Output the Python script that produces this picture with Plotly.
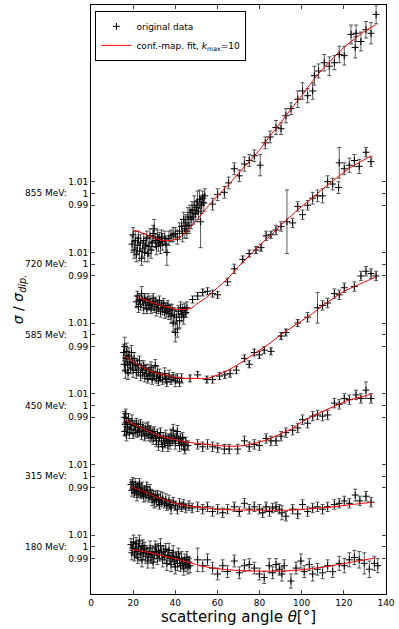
import plotly.graph_objects as go

# beam energies (MeV) and the vertical offset used to stack them
energies = [180, 315, 450, 585, 720, 855]
offsets = [0.0, 0.06, 0.12, 0.18, 0.24, 0.30]

# ---- 855 MeV ----
theta_855 = [19.5, 20.0, 20.5, 21.0, 21.5, 22.0, 22.5, 23.0, 23.5, 24.0,
             24.5, 25.0, 25.5, 26.0, 26.5, 27.0, 27.5, 28.0, 28.5, 29.0,
             29.5, 30.0, 30.5, 31.0, 31.5, 32.0, 32.5, 33.0, 33.5, 34.0,
             35.0, 35.5, 36.0, 37.0, 38.0, 39.0, 40.0, 41.0, 42.0, 43.0,
             43.5, 44.0, 44.5, 45.0, 45.5, 46.0, 46.5, 47.0, 47.5, 48.0,
             48.5, 49.0, 49.5, 50.0, 50.5, 51.0, 51.5, 52.0, 52.5, 53.0,
             53.5, 54.0, 57.7, 60.1, 63.3, 65.3, 68.0, 70.4, 72.8, 75.1,
             77.5, 80.3, 82.7, 85.0, 87.8, 90.2, 92.5, 94.9, 98.1, 100.4,
             102.8, 105.2, 106.0, 108.0, 110.7, 113.1, 115.5, 117.8, 120.2, 123.4,
             125.4, 125.8, 128.1, 130.5, 132.9, 135.3]
ratio_855 = [0.957, 0.965, 0.952, 0.960, 0.948, 0.956, 0.962, 0.951, 0.958, 0.945,
             0.953, 0.960, 0.950, 0.956, 0.962, 0.949, 0.955, 0.964, 0.952, 0.958,
             0.966, 0.970, 0.960, 0.955, 0.963, 0.958, 0.961, 0.956, 0.963, 0.959,
             0.962, 0.957, 0.950, 0.962, 0.964, 0.965, 0.966, 0.963, 0.968, 0.972,
             0.966, 0.978, 0.970, 0.975, 0.968, 0.980, 0.973, 0.984, 0.978, 0.986,
             0.980, 0.990, 0.983, 0.988, 0.993, 0.985, 0.995, 0.976, 0.990, 0.996,
             0.992, 0.998, 0.991, 0.999, 1.001, 1.009, 1.021, 1.015, 1.025, 1.028,
             1.032, 1.024, 1.043, 1.048, 1.056, 1.055, 1.066, 1.072, 1.080, 1.087,
             1.083, 1.087, 1.100, 1.104, 1.111, 1.108, 1.111, 1.118, 1.117, 1.135,
             1.124, 1.136, 1.129, 1.139, 1.136, 1.152]
err_855 = [0.007, 0.006, 0.007, 0.008, 0.006, 0.007, 0.006, 0.008, 0.007, 0.006,
           0.007, 0.006, 0.008, 0.007, 0.006, 0.007, 0.008, 0.006, 0.007, 0.006,
           0.007, 0.008, 0.006, 0.007, 0.006, 0.007, 0.006, 0.007, 0.006, 0.007,
           0.006, 0.007, 0.011, 0.006, 0.005, 0.006, 0.005, 0.006, 0.007, 0.006,
           0.007, 0.006, 0.008, 0.007, 0.006, 0.008, 0.007, 0.006, 0.008, 0.007,
           0.006, 0.008, 0.007, 0.006, 0.009, 0.007, 0.008, 0.022, 0.007, 0.006,
           0.007, 0.006, 0.005, 0.005, 0.005, 0.005, 0.005, 0.005, 0.006, 0.005,
           0.005, 0.009, 0.005, 0.005, 0.006, 0.005, 0.006, 0.005, 0.007, 0.007,
           0.006, 0.007, 0.008, 0.006, 0.007, 0.008, 0.006, 0.007, 0.008, 0.008,
           0.009, 0.007, 0.008, 0.007, 0.009, 0.008]
fit_theta_855 = [20, 25, 30, 35, 40, 45, 50, 55, 60, 65, 70, 75, 80, 85, 90, 95,
                 100, 105, 110, 115, 120, 125, 130, 135]
fit_855 = [0.969, 0.966, 0.962, 0.960, 0.961, 0.967, 0.977, 0.988, 0.998, 1.007,
           1.017, 1.027, 1.037, 1.049, 1.060, 1.072, 1.083, 1.095, 1.106, 1.115,
           1.124, 1.131, 1.138, 1.143]

# ---- 720 MeV ----
theta_720 = [21.5, 22.0, 22.5, 23.0, 23.5, 24.0, 24.5, 25.0, 25.5, 26.0,
             26.5, 27.0, 27.5, 28.0, 28.5, 29.0, 29.5, 30.0, 30.5, 31.0,
             31.5, 32.0, 32.5, 33.0, 33.5, 34.0, 34.5, 35.0, 35.5, 36.0,
             36.5, 37.0, 37.5, 38.0, 38.5, 39.0, 39.5, 40.0, 40.5, 41.0,
             41.5, 42.0, 42.5, 43.0, 43.5, 44.0, 44.5, 45.0, 45.5, 48.2,
             50.6, 53.0, 55.3, 57.7, 60.1, 64.8, 68.0, 72.0, 75.1, 78.3,
             80.7, 83.1, 85.4, 87.8, 90.2, 93.0, 95.7, 98.1, 100.4, 102.8,
             105.2, 107.5, 109.9, 112.3, 114.7, 117.5, 117.8, 120.2, 122.6, 125.0,
             127.3, 130.5, 132.9]
ratio_720 = [0.968, 0.973, 0.964, 0.970, 0.966, 0.975, 0.969, 0.963, 0.971, 0.967,
             0.962, 0.970, 0.965, 0.968, 0.962, 0.966, 0.971, 0.964, 0.968, 0.961,
             0.966, 0.963, 0.969, 0.960, 0.965, 0.962, 0.967, 0.959, 0.963, 0.960,
             0.965, 0.958, 0.962, 0.956, 0.961, 0.950, 0.957, 0.942, 0.955, 0.945,
             0.960, 0.952, 0.963, 0.957, 0.961, 0.955, 0.962, 0.959, 0.963, 0.970,
             0.973, 0.976, 0.977, 0.975, 0.974, 0.985, 0.996, 1.004, 1.009, 1.012,
             1.014, 1.024, 1.025, 1.029, 1.032, 1.036, 1.035, 1.049, 1.042, 1.050,
             1.056, 1.058, 1.058, 1.070, 1.068, 1.065, 1.086, 1.081, 1.084, 1.088,
             1.083, 1.095, 1.087]
err_720 = [0.005, 0.004, 0.005, 0.004, 0.005, 0.006, 0.004, 0.005, 0.004, 0.005,
           0.004, 0.005, 0.004, 0.005, 0.004, 0.005, 0.004, 0.005, 0.004, 0.005,
           0.004, 0.005, 0.004, 0.005, 0.004, 0.005, 0.004, 0.005, 0.004, 0.005,
           0.004, 0.005, 0.004, 0.006, 0.005, 0.007, 0.006, 0.008, 0.006, 0.007,
           0.005, 0.006, 0.005, 0.006, 0.005, 0.006, 0.005, 0.004, 0.005, 0.003,
           0.003, 0.003, 0.003, 0.003, 0.003, 0.003, 0.004, 0.003, 0.003, 0.003,
           0.003, 0.004, 0.003, 0.004, 0.004, 0.027, 0.004, 0.004, 0.004, 0.004,
           0.005, 0.005, 0.006, 0.005, 0.005, 0.005, 0.013, 0.005, 0.006, 0.005,
           0.006, 0.004, 0.004]
fit_theta_720 = [22, 25, 30, 35, 40, 45, 48, 50, 55, 60, 65, 70, 75, 80, 85, 90,
                 95, 100, 105, 110, 115, 120, 125, 130, 133]
fit_720 = [0.972, 0.970, 0.967, 0.964, 0.962, 0.9615, 0.963, 0.966, 0.972, 0.980,
           0.988, 0.998, 1.007, 1.016, 1.024, 1.033, 1.041, 1.049, 1.056, 1.064,
           1.071, 1.078, 1.084, 1.089, 1.092]

# ---- 585 MeV ----
theta_585 = [15.5, 15.8, 16.0, 16.3, 16.6, 17.0, 17.3, 17.6, 18.0, 18.4,
             18.8, 19.2, 19.6, 20.0, 20.5, 21.0, 21.5, 22.0, 22.5, 23.0,
             23.5, 24.0, 24.5, 25.0, 25.5, 26.0, 26.5, 27.0, 27.5, 28.0,
             28.5, 29.0, 29.5, 30.0, 30.5, 31.0, 31.5, 32.0, 32.5, 33.0,
             34.0, 35.0, 35.5, 36.0, 37.0, 38.0, 39.0, 40.0, 41.0, 42.0,
             43.0, 47.0, 50.6, 55.0, 57.7, 61.0, 63.5, 66.0, 69.0, 72.8,
             75.1, 77.5, 79.9, 82.2, 85.4, 90.2, 92.5, 98.1, 102.8, 107.5,
             109.9, 112.3, 115.5, 117.8, 120.2, 125.0, 128.1, 130.5, 132.9, 135.3]
ratio_585 = [0.985, 0.975, 0.990, 0.970, 0.980, 0.986, 0.975, 0.968, 0.982, 0.977,
             0.972, 0.985, 0.976, 0.970, 0.980, 0.974, 0.968, 0.975, 0.970, 0.978,
             0.966, 0.972, 0.968, 0.974, 0.965, 0.971, 0.967, 0.963, 0.970, 0.966,
             0.972, 0.962, 0.968, 0.965, 0.974, 0.963, 0.968, 0.961, 0.966, 0.964,
             0.962, 0.967, 0.963, 0.960, 0.965, 0.962, 0.964, 0.961, 0.963, 0.960,
             0.963, 0.963, 0.966, 0.962, 0.962, 0.965, 0.966, 0.967, 0.970, 0.980,
             0.975, 0.985, 0.983, 0.987, 0.986, 0.999, 1.002, 1.010, 1.015, 1.023,
             1.025, 1.027, 1.035, 1.034, 1.040, 1.041, 1.050, 1.054, 1.052, 1.050]
err_585 = [0.007, 0.006, 0.008, 0.007, 0.006, 0.007, 0.008, 0.006, 0.007, 0.006,
           0.005, 0.006, 0.005, 0.006, 0.005, 0.004, 0.005, 0.004, 0.005, 0.004,
           0.005, 0.004, 0.005, 0.004, 0.005, 0.004, 0.005, 0.004, 0.005, 0.004,
           0.005, 0.004, 0.005, 0.004, 0.005, 0.004, 0.005, 0.004, 0.005, 0.004,
           0.004, 0.005, 0.004, 0.004, 0.005, 0.004, 0.004, 0.005, 0.004, 0.004,
           0.004, 0.003, 0.003, 0.003, 0.003, 0.003, 0.003, 0.003, 0.003, 0.003,
           0.003, 0.003, 0.003, 0.003, 0.003, 0.003, 0.003, 0.003, 0.004, 0.013,
           0.004, 0.004, 0.004, 0.004, 0.004, 0.004, 0.004, 0.004, 0.004, 0.004]
fit_theta_585 = [16, 20, 25, 30, 35, 40, 45, 50, 55, 60, 65, 70, 75, 80, 85, 90,
                 95, 100, 105, 110, 115, 120, 125, 130, 135]
fit_585 = [0.982, 0.977, 0.972, 0.968, 0.966, 0.964, 0.963, 0.963, 0.963, 0.966,
           0.970, 0.975, 0.981, 0.987, 0.993, 1.000, 1.006, 1.012, 1.018, 1.025,
           1.031, 1.037, 1.041, 1.045, 1.049]

# ---- 450 MeV ----
theta_450 = [15.8, 16.0, 16.2, 16.5, 16.8, 17.0, 17.4, 17.8, 18.2, 18.6,
             19.0, 19.5, 20.0, 20.5, 21.0, 21.5, 22.0, 22.5, 23.0, 23.5,
             24.0, 24.5, 25.0, 25.5, 26.0, 26.5, 27.0, 27.5, 28.0, 28.5,
             29.0, 29.5, 30.0, 30.5, 31.0, 31.5, 32.0, 32.5, 33.0, 33.5,
             34.0, 34.5, 35.0, 35.5, 36.0, 36.5, 37.0, 37.5, 38.0, 38.5,
             39.0, 39.5, 40.0, 40.5, 41.0, 41.5, 42.0, 42.5, 43.0, 43.5,
             44.0, 44.5, 45.0, 46.0, 50.6, 53.0, 55.3, 57.7, 60.1, 63.3,
             65.6, 69.6, 72.8, 75.1, 77.5, 79.9, 83.1, 85.4, 87.8, 90.2,
             92.5, 95.7, 98.1, 100.4, 102.8, 105.2, 107.5, 109.9, 112.3, 115.5,
             117.8, 120.2, 122.6, 125.8, 128.1, 130.5, 132.9]
ratio_450 = [0.990, 0.978, 0.984, 0.993, 0.975, 0.986, 0.981, 0.989, 0.977, 0.984,
             0.980, 0.987, 0.976, 0.983, 0.979, 0.985, 0.977, 0.982, 0.978, 0.984,
             0.975, 0.981, 0.979, 0.974, 0.980, 0.976, 0.982, 0.975, 0.979, 0.973,
             0.977, 0.972, 0.978, 0.974, 0.970, 0.976, 0.967, 0.973, 0.977, 0.970,
             0.965, 0.972, 0.968, 0.974, 0.970, 0.966, 0.972, 0.968, 0.975, 0.970,
             0.979, 0.972, 0.968, 0.974, 0.978, 0.970, 0.966, 0.972, 0.968, 0.973,
             0.967, 0.963, 0.969, 0.966, 0.967, 0.965, 0.967, 0.965, 0.964, 0.963,
             0.963, 0.963, 0.970, 0.965, 0.967, 0.966, 0.972, 0.970, 0.970, 0.974,
             0.977, 0.979, 0.981, 0.988, 0.985, 0.991, 0.992, 0.991, 0.992, 1.002,
             1.001, 1.006, 1.005, 1.009, 1.006, 1.013, 1.006]
err_450 = [0.005, 0.004, 0.005, 0.004, 0.005, 0.004, 0.005, 0.004, 0.005, 0.004,
           0.004, 0.005, 0.004, 0.004, 0.005, 0.004, 0.004, 0.005, 0.004, 0.004,
           0.004, 0.005, 0.004, 0.004, 0.005, 0.004, 0.004, 0.005, 0.004, 0.004,
           0.004, 0.005, 0.004, 0.004, 0.005, 0.004, 0.005, 0.004, 0.004, 0.005,
           0.004, 0.005, 0.004, 0.005, 0.004, 0.005, 0.004, 0.005, 0.005, 0.004,
           0.005, 0.004, 0.005, 0.004, 0.005, 0.004, 0.005, 0.004, 0.005, 0.004,
           0.005, 0.004, 0.004, 0.004, 0.004, 0.004, 0.004, 0.004, 0.004, 0.004,
           0.004, 0.004, 0.004, 0.004, 0.004, 0.004, 0.004, 0.004, 0.004, 0.004,
           0.004, 0.004, 0.004, 0.004, 0.004, 0.004, 0.004, 0.004, 0.004, 0.004,
           0.004, 0.004, 0.004, 0.004, 0.004, 0.007, 0.004]
fit_theta_450 = [16, 20, 25, 30, 35, 40, 45, 50, 55, 60, 65, 70, 75, 80, 85, 90,
                 95, 100, 105, 110, 115, 120, 125, 130, 133]
fit_450 = [0.988, 0.984, 0.980, 0.976, 0.973, 0.971, 0.969, 0.968, 0.967, 0.966,
           0.9655, 0.9655, 0.967, 0.969, 0.972, 0.976, 0.980, 0.986, 0.991, 0.995,
           0.999, 1.003, 1.006, 1.008, 1.010]

# ---- 315 MeV ----
theta_315 = [19.0, 19.4, 19.8, 20.2, 20.6, 21.0, 21.4, 21.8, 22.2, 22.6,
             23.0, 23.4, 23.8, 24.2, 24.6, 25.0, 25.5, 26.0, 26.5, 27.0,
             27.5, 28.0, 28.5, 29.0, 29.5, 30.0, 30.5, 31.0, 31.5, 32.0,
             32.5, 33.0, 33.5, 34.0, 35.0, 35.5, 36.0, 37.0, 37.5, 38.0,
             39.0, 40.0, 41.0, 42.0, 43.0, 44.0, 45.0, 46.5, 48.0, 50.6,
             53.0, 55.3, 57.7, 60.1, 62.5, 64.8, 68.0, 70.4, 72.8, 75.1,
             77.5, 79.9, 81.5, 83.1, 84.7, 86.2, 87.8, 89.4, 90.6, 92.5,
             95.7, 98.1, 100.4, 102.8, 105.2, 107.5, 109.9, 112.3, 115.5, 117.8,
             120.2, 122.6, 125.4, 127.6, 130.5, 132.9]
ratio_315 = [0.993, 0.988, 0.995, 0.990, 0.986, 0.993, 0.989, 0.984, 0.991, 0.987,
             0.994, 0.988, 0.985, 0.990, 0.986, 0.983, 0.988, 0.984, 0.991, 0.986,
             0.982, 0.988, 0.985, 0.980, 0.984, 0.978, 0.983, 0.979, 0.984, 0.980,
             0.976, 0.982, 0.978, 0.981, 0.977, 0.980, 0.975, 0.979, 0.976, 0.973,
             0.978, 0.975, 0.972, 0.977, 0.974, 0.976, 0.973, 0.975, 0.973, 0.974,
             0.972, 0.974, 0.970, 0.972, 0.969, 0.972, 0.974, 0.970, 0.977, 0.972,
             0.974, 0.972, 0.969, 0.974, 0.970, 0.973, 0.974, 0.972, 0.969, 0.966,
             0.972, 0.968, 0.976, 0.970, 0.973, 0.974, 0.972, 0.974, 0.976, 0.977,
             0.979, 0.977, 0.984, 0.979, 0.983, 0.978]
err_315 = [0.004, 0.005, 0.004, 0.005, 0.004, 0.005, 0.004, 0.005, 0.004, 0.005,
           0.004, 0.005, 0.004, 0.005, 0.004, 0.005, 0.004, 0.005, 0.004, 0.005,
           0.004, 0.005, 0.004, 0.005, 0.004, 0.005, 0.004, 0.005, 0.004, 0.005,
           0.004, 0.005, 0.004, 0.005, 0.004, 0.005, 0.004, 0.005, 0.004, 0.005,
           0.004, 0.004, 0.004, 0.004, 0.004, 0.004, 0.004, 0.004, 0.004, 0.004,
           0.004, 0.004, 0.004, 0.004, 0.004, 0.004, 0.004, 0.004, 0.004, 0.004,
           0.004, 0.004, 0.004, 0.004, 0.004, 0.004, 0.004, 0.004, 0.006, 0.004,
           0.004, 0.004, 0.004, 0.004, 0.004, 0.004, 0.004, 0.004, 0.004, 0.004,
           0.004, 0.004, 0.005, 0.004, 0.004, 0.004]
fit_theta_315 = [19, 22, 25, 30, 35, 40, 45, 50, 55, 60, 65, 70, 75, 80, 85, 90,
                 95, 100, 105, 110, 115, 120, 125, 130, 133]
fit_315 = [0.991, 0.989, 0.987, 0.983, 0.980, 0.977, 0.975, 0.974, 0.973, 0.972,
           0.9715, 0.9713, 0.9712, 0.9712, 0.9711, 0.971, 0.9712, 0.9717, 0.9725, 0.9733,
           0.974, 0.9752, 0.9762, 0.9772, 0.9779]

# ---- 180 MeV ----
theta_180 = [19.0, 19.4, 19.8, 20.2, 20.6, 21.0, 21.4, 21.8, 22.2, 22.6,
             23.0, 23.4, 23.8, 24.2, 24.6, 25.0, 25.5, 26.0, 26.5, 27.0,
             27.5, 28.0, 28.5, 29.0, 29.5, 30.0, 30.5, 31.0, 31.5, 32.0,
             32.5, 33.0, 33.5, 34.0, 34.5, 35.0, 35.5, 36.0, 36.5, 37.0,
             37.5, 38.0, 38.5, 39.0, 39.5, 40.0, 40.5, 41.0, 41.5, 42.0,
             42.5, 43.0, 43.5, 44.0, 44.5, 45.0, 45.5, 46.0, 46.5, 47.0,
             50.6, 53.0, 55.3, 57.7, 60.1, 62.5, 64.8, 68.0, 70.4, 72.8,
             75.1, 77.5, 79.9, 82.2, 84.6, 86.2, 87.8, 89.4, 90.6, 91.7,
             94.9, 97.3, 99.6, 101.2, 103.6, 105.2, 107.5, 109.9, 112.3, 114.7,
             117.8, 120.2, 122.6, 125.0, 127.3, 129.7, 132.1, 134.5, 136.1]
ratio_180 = [1.002, 0.995, 0.999, 1.004, 0.993, 0.998, 1.003, 0.996, 0.991, 1.000,
             1.005, 0.994, 0.998, 0.989, 1.001, 0.995, 0.999, 0.992, 0.996, 0.988,
             0.994, 0.999, 0.991, 0.995, 0.987, 0.993, 1.000, 0.996, 0.990, 0.997,
             0.993, 1.001, 0.995, 0.989, 0.996, 0.992, 0.998, 0.986, 0.993, 0.997,
             0.990, 0.985, 0.992, 0.995, 0.988, 0.983, 0.991, 0.986, 0.994, 0.989,
             0.984, 0.990, 0.986, 0.982, 0.989, 0.985, 0.991, 0.983, 0.987, 0.984,
             0.989, 0.984, 0.989, 0.982, 0.977, 0.984, 0.979, 0.988, 0.978, 0.984,
             0.985, 0.982, 0.977, 0.974, 0.984, 0.978, 0.985, 0.981, 0.977, 0.984,
             0.971, 0.982, 0.988, 0.979, 0.985, 0.977, 0.981, 0.978, 0.984, 0.979,
             0.986, 0.984, 0.989, 0.991, 0.989, 0.986, 0.981, 0.986, 0.984]
err_180 = [0.005, 0.006, 0.005, 0.006, 0.005, 0.006, 0.005, 0.006, 0.005, 0.006,
           0.005, 0.006, 0.005, 0.006, 0.005, 0.006, 0.005, 0.006, 0.005, 0.006,
           0.005, 0.006, 0.005, 0.006, 0.005, 0.006, 0.005, 0.006, 0.005, 0.006,
           0.005, 0.006, 0.005, 0.006, 0.005, 0.006, 0.005, 0.006, 0.005, 0.006,
           0.005, 0.006, 0.005, 0.006, 0.005, 0.006, 0.005, 0.006, 0.005, 0.006,
           0.005, 0.006, 0.005, 0.006, 0.005, 0.006, 0.005, 0.006, 0.005, 0.006,
           0.010, 0.005, 0.005, 0.005, 0.005, 0.005, 0.005, 0.005, 0.005, 0.005,
           0.005, 0.005, 0.005, 0.005, 0.006, 0.005, 0.005, 0.005, 0.006, 0.005,
           0.006, 0.005, 0.006, 0.005, 0.005, 0.006, 0.005, 0.005, 0.005, 0.005,
           0.006, 0.006, 0.006, 0.006, 0.007, 0.009, 0.007, 0.006, 0.006]
fit_theta_180 = [19, 25, 30, 35, 40, 45, 50, 55, 60, 65, 70, 75, 80, 85, 90, 95,
                 100, 105, 110, 115, 120, 125, 130, 135]
fit_180 = [0.998, 0.996, 0.9945, 0.992, 0.990, 0.9875, 0.985, 0.9828, 0.9815, 0.9805,
           0.980, 0.9796, 0.9794, 0.9794, 0.9794, 0.9798, 0.9806, 0.9816, 0.9828, 0.9843,
           0.9858, 0.9875, 0.989, 0.9907]

series = {
    180: (theta_180, ratio_180, err_180, fit_theta_180, fit_180),
    315: (theta_315, ratio_315, err_315, fit_theta_315, fit_315),
    450: (theta_450, ratio_450, err_450, fit_theta_450, fit_450),
    585: (theta_585, ratio_585, err_585, fit_theta_585, fit_585),
    720: (theta_720, ratio_720, err_720, fit_theta_720, fit_720),
    855: (theta_855, ratio_855, err_855, fit_theta_855, fit_855),
}

font = "DejaVu Sans, Arial, sans-serif"
fig = go.Figure()

# data points first
for i, (e, off) in enumerate(zip(energies, offsets)):
    th, r, er, _, _ = series[e]
    fig.add_trace(go.Scatter(
        x=th, y=[v + off for v in r], mode="markers",
        name="original data", legendgroup="data", showlegend=(i == 0),
        marker=dict(symbol="cross-thin", size=5, color="black",
                    line=dict(color="black", width=1)),
        error_y=dict(type="data", array=er, visible=True,
                     color="rgba(0,0,0,0.65)", thickness=1, width=2),
    ))

# fit curves on top
for i, (e, off) in enumerate(zip(energies, offsets)):
    _, _, _, ft, fv = series[e]
    fig.add_trace(go.Scatter(
        x=ft, y=[v + off for v in fv], mode="lines", line_shape="spline",
        name="conf.-map. fit, <span style='color:black'><i>k</i>"
             "<sub>max</sub></span>=10",
        legendgroup="fit", showlegend=(i == 0),
        line=dict(color="red", width=1),
    ))

tickvals, ticktext = [], []
for off in offsets:
    tickvals += [off + 0.99, off + 1.0, off + 1.01]
    ticktext += ["0.99", "1", "1.01"]

for e, off in zip(energies, offsets):
    fig.add_annotation(x=-0.075, xref="paper", y=off + 1.0, yref="y",
                       text=f"{e} MeV:", showarrow=False, xanchor="right",
                       yanchor="middle",
                       font=dict(size=9, color="black", family=font))

fig.add_annotation(x=-0.245, xref="paper", y=0.5, yref="paper",
                   text="<i>σ</i> / <i>σ</i><sub><i>dip.</i></sub>",
                   textangle=-90, showarrow=False, xanchor="center",
                   yanchor="middle",
                   font=dict(size=14, color="black", family=font))

fig.update_xaxes(range=[0, 140], tickvals=list(range(0, 141, 20)),
                 ticks="inside", ticklen=4, mirror="allticks", showline=True,
                 linecolor="black", linewidth=1, showgrid=False, zeroline=False,
                 tickfont=dict(size=9, color="black", family=font),
                 title=dict(text="scattering angle <i>θ</i>[°]", standoff=2,
                            font=dict(size=15, color="black", family=font)))
fig.update_yaxes(range=[0.96, 1.46], tickvals=tickvals, ticktext=ticktext,
                 ticks="inside", ticklen=4, mirror="allticks", showline=True,
                 linecolor="black", linewidth=1, showgrid=False, zeroline=False,
                 tickfont=dict(size=9, color="black", family=font))

fig.update_layout(
    width=399, height=629,
    margin=dict(l=91, r=13, t=5, b=35),
    plot_bgcolor="white", paper_bgcolor="white",
    font=dict(family=font, color="black"),
    legend=dict(x=0.015, y=0.99, xanchor="left", yanchor="top",
                bgcolor="white", bordercolor="black", borderwidth=1,
                font=dict(size=9, color="black", family=font),
                tracegroupgap=0, itemwidth=30),
)

fig.write_html("out.html", config={"displayModeBar": False},
               post_script="document.body.style.margin='0';"
                           "document.body.style.overflow='hidden';")
